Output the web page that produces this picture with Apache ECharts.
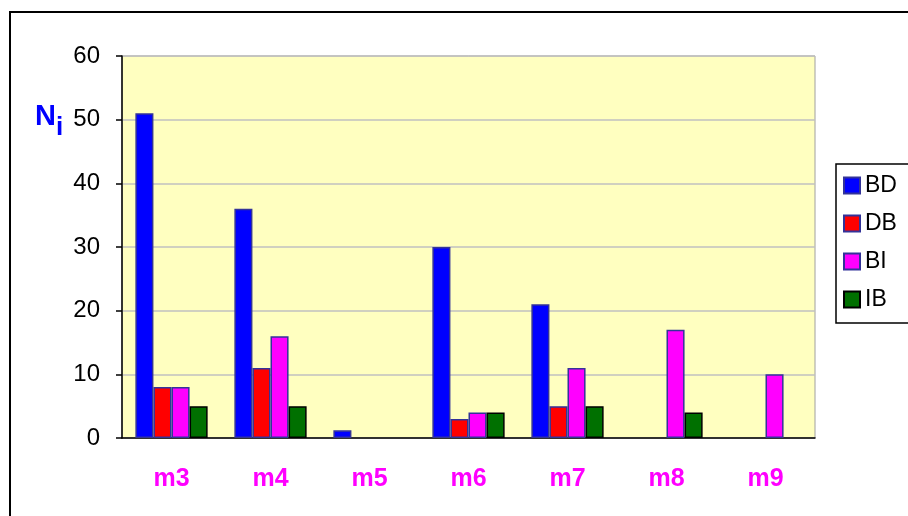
<!DOCTYPE html>
<html><head><meta charset="utf-8">
<script src="https://cdn.jsdelivr.net/npm/echarts@6/dist/echarts.min.js"></script>
<style>html,body{margin:0;padding:0;background:#fff}#c{width:908px;height:516px}</style>
</head><body><div id="c"></div>
<script>
const categories = ['m3','m4','m5','m6','m7','m8','m9'];
const seriesNames = ['BD','DB','BI','IB'];
const BD = [51, 36, 1.2, 30, 21, null, null];
const DB = [8, 11, null, 3, 5, null, null];
const BI = [8, 16, null, 4, 11, 17, 10];
const IB = [5, 5, null, 4, 5, 4, null];
const yTicks = [0, 10, 20, 30, 40, 50, 60];

const colors = ['#0000ff', '#ff0000', '#ff00ff', '#007000'];
const borders = ['#333399', '#333399', '#333399', '#000000'];
const values = [BD, DB, BI, IB];

const chart = echarts.init(document.getElementById('c'), null, {renderer: 'canvas'});
const font = 'Liberation Sans, Arial, sans-serif';
chart.setOption({
  animation: false,
  textStyle: {fontFamily: font},
  grid: {left: 122, right: 93, top: 56, bottom: 78, show: true, backgroundColor: '#ffffc0', borderColor: '#a0a0a0', borderWidth: 1},
  legend: {
    orient: 'vertical', left: 836, top: 164,
    data: seriesNames,
    itemWidth: 16, itemHeight: 16, itemGap: 15,
    icon: 'rect',
    padding: [10, 40, 12, 7],
    borderColor: '#000', borderWidth: 1.5,
    textStyle: {fontSize: 23, color: '#000', fontFamily: font}
  },
  xAxis: {
    type: 'category', data: categories,
    axisLine: {lineStyle: {color: '#000', width: 1.5}},
    axisTick: {length: 8, lineStyle: {color: '#000', width: 1.5}},
    axisLabel: {color: '#ff00ff', fontWeight: 'bold', fontSize: 25, margin: 29, fontFamily: font}
  },
  yAxis: {
    type: 'value', min: yTicks[0], max: yTicks[yTicks.length-1], interval: 10,
    axisLine: {show: true, lineStyle: {color: '#000', width: 1.5}},
    axisTick: {show: true, length: 6, lineStyle: {color: '#000', width: 1.5}},
    axisLabel: {color: '#000', fontSize: 24, margin: 22, fontFamily: font},
    splitLine: {lineStyle: {color: '#c0c0c0', width: 1.5}}
  },
  graphic: [
    {type: 'rect', shape: {x: 10, y: 12, width: 920, height: 530}, style: {fill: 'none', stroke: '#000', lineWidth: 2}, z: -1},
    {type: 'text', left: 35, top: 102, style: {text: 'N', fontSize: 29, fontWeight: 'bold', fill: '#0000ff', fontFamily: font}},
    {type: 'text', left: 56, top: 115, style: {text: 'i', fontSize: 26, fontWeight: 'bold', fill: '#0000ff', fontFamily: font}}
  ],
  series: seriesNames.map((n, i) => ({
    name: n, type: 'bar', data: values[i],
    barGap: '0%', barCategoryGap: '27%',
    itemStyle: {color: colors[i], borderColor: borders[i], borderWidth: 1.5}
  }))
});
</script></body></html>
